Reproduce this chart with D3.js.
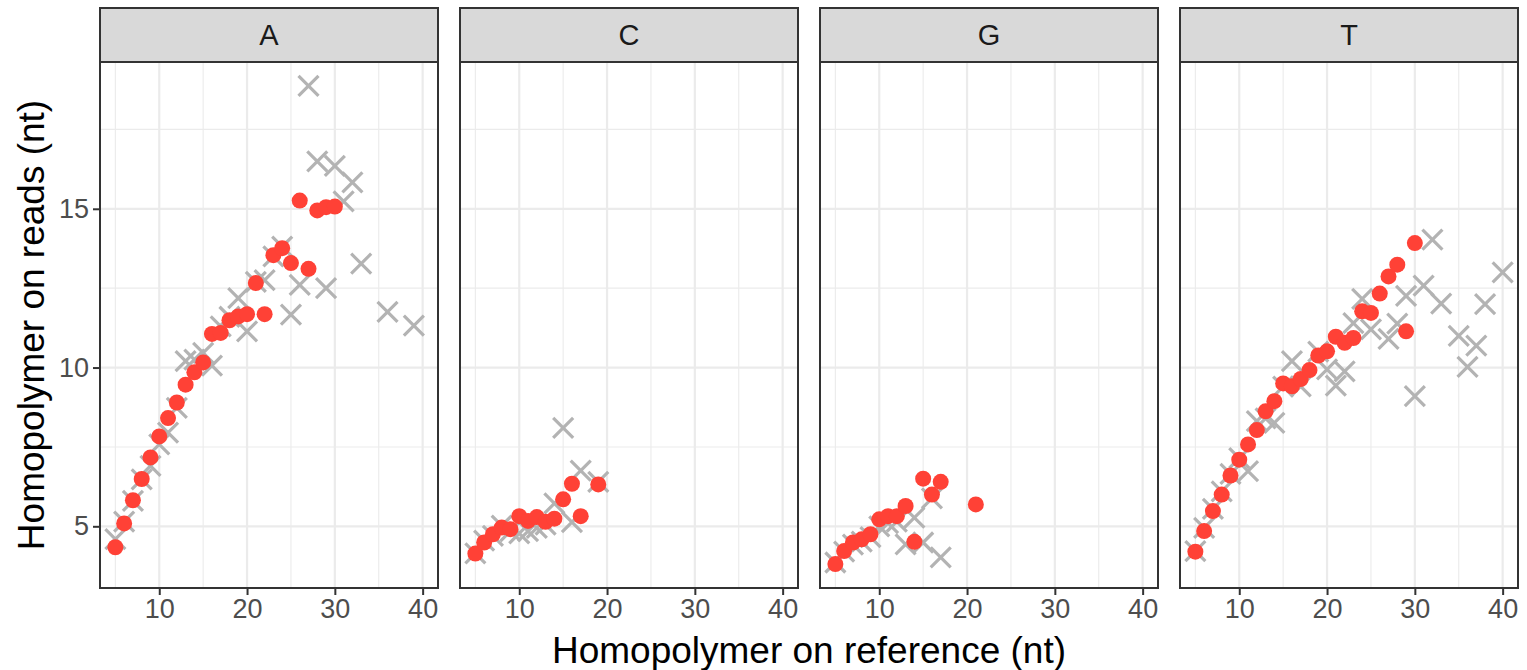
<!DOCTYPE html>
<html>
<head>
<meta charset="utf-8">
<script src="https://cdn.jsdelivr.net/npm/d3@7"></script>
<style>
	body { margin: 0; background: #fff; }
	svg { display: block; font-family: 'Liberation Sans', Arial, sans-serif; }
</style>
</head>
<body>
<svg id="chart" width="1527" height="670"></svg>
<script>
'use strict';

// facets
var bases = ['A', 'C', 'G', 'T'];

// red series: homopolymer length on reference -> mean length on reads
var redX = {
	A: [5, 6, 7, 8, 9, 10, 11, 12, 13, 14, 15, 16, 17, 18, 19, 20, 21, 22, 23, 24, 25, 26, 27, 28, 29, 30],
	C: [5, 6, 7, 8, 9, 10, 11, 12, 13, 14, 15, 16, 17, 19],
	G: [5, 6, 7, 8, 9, 10, 11, 12, 13, 14, 15, 16, 17, 21],
	T: [5, 6, 7, 8, 9, 10, 11, 12, 13, 14, 15, 16, 17, 18, 19, 20, 21, 22, 23, 24, 25, 26, 27, 28, 29, 30]
};
var redY = {
	A: [4.34, 5.09, 5.82, 6.49, 7.17, 7.83, 8.41, 8.90, 9.46, 9.85, 10.16, 11.06, 11.09, 11.49, 11.61, 11.68, 12.66, 11.68, 13.54, 13.76, 13.29, 15.26, 13.11, 14.95, 15.05, 15.07],
	C: [4.14, 4.49, 4.75, 4.96, 4.91, 5.32, 5.17, 5.29, 5.14, 5.24, 5.85, 6.34, 5.32, 6.32],
	G: [3.81, 4.22, 4.49, 4.59, 4.75, 5.22, 5.32, 5.32, 5.64, 4.51, 6.50, 6.00, 6.40, 5.69],
	T: [4.20, 4.85, 5.48, 6.00, 6.60, 7.10, 7.58, 8.03, 8.62, 8.94, 9.50, 9.41, 9.64, 9.92, 10.38, 10.51, 10.97, 10.78, 10.93, 11.77, 11.72, 12.33, 12.87, 13.24, 11.14, 13.92]
};

// grey series
var greyX = {
	A: [5, 6, 7, 8, 9, 10, 11, 12, 13, 14, 15, 16, 17, 18, 19, 20, 21, 22, 23, 24, 25, 26, 27, 28, 29, 30, 31, 32, 33, 36, 39],
	C: [5, 6, 7, 8, 9, 10, 11, 12, 13, 14, 15, 16, 17, 19],
	G: [5, 6, 7, 8, 9, 10, 11, 12, 13, 14, 15, 16, 17],
	T: [5, 6, 7, 8, 9, 10, 11, 12, 13, 14, 15, 16, 17, 19, 20, 21, 22, 23, 24, 25, 27, 28, 29, 30, 31, 32, 33, 35, 36, 37, 38, 40]
};
var greyY = {
	A: [4.60, 5.15, 5.80, 6.48, 6.90, 7.58, 7.95, 8.73, 10.20, 10.25, 10.46, 10.06, 11.30, 11.60, 12.19, 11.14, 12.70, 12.75, 13.50, 13.81, 11.67, 12.60, 18.87, 16.49, 12.50, 16.35, 15.23, 15.83, 13.27, 11.75, 11.32],
	C: [4.15, 4.55, 4.70, 5.02, 4.85, 4.78, 4.85, 4.95, 5.05, 5.72, 8.10, 5.13, 6.75, 6.40],
	G: [3.86, 4.20, 4.42, 4.52, 4.66, 5.00, 5.10, 5.15, 4.43, 5.27, 4.49, 5.88, 4.02],
	T: [4.22, 4.95, 5.55, 6.10, 6.65, 7.15, 6.74, 8.31, 8.40, 8.26, 9.40, 10.20, 9.41, 10.50, 9.94, 9.43, 9.88, 11.40, 12.16, 11.20, 10.90, 11.38, 12.26, 9.10, 12.58, 14.03, 12.01, 11.00, 10.02, 10.69, 12.00, 13.00]
};

var xTicks = [10, 20, 30, 40];
var yTicks = [5, 10, 15];

var svg = d3.select('#chart');

var panelW = 338, gap = 22, left0 = 100;
var stripTop = 8, panelTop = 62, panelBottom = 588;

// shared scales with ggplot-style 5% expansion
var allX = [], allY = [];
bases.forEach(function(b) {
	allX = allX.concat(redX[b], greyX[b]);
	allY = allY.concat(redY[b], greyY[b]);
});
var xr = d3.extent(allX), yr = d3.extent(allY);
var xpad = (xr[1] - xr[0]) * 0.05, ypad = (yr[1] - yr[0]) * 0.05;

var y_scale = d3.scaleLinear()
	.domain([yr[0] - ypad, yr[1] + ypad])
	.range([panelBottom, panelTop]);

bases.forEach(function(b, i) {
	var x0 = left0 + i * (panelW + gap);
	var x_scale = d3.scaleLinear()
		.domain([xr[0] - xpad, xr[1] + xpad])
		.range([x0, x0 + panelW]);

	var g = svg.append('g');

	// grid: minor then major
	var xMinor = xTicks.map(function(t) { return t - 5; });
	var yMinor = [7.5, 12.5, 17.5];
	g.selectAll('line.xminor').data(xMinor).enter().append('line')
		.attr('x1', function(d) { return x_scale(d); }).attr('x2', function(d) { return x_scale(d); })
		.attr('y1', panelTop).attr('y2', panelBottom)
		.attr('stroke', '#ebebeb').attr('stroke-width', 1.1);
	g.selectAll('line.yminor').data(yMinor).enter().append('line')
		.attr('y1', function(d) { return y_scale(d); }).attr('y2', function(d) { return y_scale(d); })
		.attr('x1', x0).attr('x2', x0 + panelW)
		.attr('stroke', '#ebebeb').attr('stroke-width', 1.1);
	g.selectAll('line.xmajor').data(xTicks).enter().append('line')
		.attr('x1', function(d) { return x_scale(d); }).attr('x2', function(d) { return x_scale(d); })
		.attr('y1', panelTop).attr('y2', panelBottom)
		.attr('stroke', '#ebebeb').attr('stroke-width', 2.2);
	g.selectAll('line.ymajor').data(yTicks).enter().append('line')
		.attr('y1', function(d) { return y_scale(d); }).attr('y2', function(d) { return y_scale(d); })
		.attr('x1', x0).attr('x2', x0 + panelW)
		.attr('stroke', '#ebebeb').attr('stroke-width', 2.2);

	// grey crosses
	var greys = greyX[b].map(function(x, k) { return { x: x, y: greyY[b][k] }; });
	var s = 10;
	g.selectAll('path.cross').data(greys).enter().append('path')
		.attr('d', function(d) {
			var cx = x_scale(d.x), cy = y_scale(d.y);
			return 'M' + (cx - s) + ',' + (cy - s) + 'L' + (cx + s) + ',' + (cy + s) +
				'M' + (cx - s) + ',' + (cy + s) + 'L' + (cx + s) + ',' + (cy - s);
		})
		.attr('stroke', '#b3b3b3').attr('stroke-width', 3.2).attr('fill', 'none');

	// red dots
	var reds = redX[b].map(function(x, k) { return { x: x, y: redY[b][k] }; });
	g.selectAll('circle.dot').data(reds).enter().append('circle')
		.attr('cx', function(d) { return x_scale(d.x); })
		.attr('cy', function(d) { return y_scale(d.y); })
		.attr('r', 8)
		.attr('fill', '#ff4136');

	// panel border
	g.append('rect')
		.attr('x', x0).attr('y', panelTop).attr('width', panelW).attr('height', panelBottom - panelTop)
		.attr('fill', 'none').attr('stroke', '#333333').attr('stroke-width', 2);

	// strip
	g.append('rect')
		.attr('x', x0).attr('y', stripTop).attr('width', panelW).attr('height', panelTop - stripTop)
		.attr('fill', '#d9d9d9').attr('stroke', '#333333').attr('stroke-width', 2);
	g.append('text')
		.attr('x', x0 + panelW / 2).attr('y', (stripTop + panelTop) / 2)
		.attr('dy', '0.36em').attr('text-anchor', 'middle')
		.style('font-size', '29px').attr('fill', '#1a1a1a')
		.text(b);

	// x axis
	var xAxis = d3.axisBottom(x_scale).tickValues(xTicks).tickSize(6).tickPadding(4);
	var xa = svg.append('g').attr('transform', 'translate(0,' + (panelBottom + 1) + ')').call(xAxis);
	xa.select('.domain').remove();
	xa.selectAll('.tick line').attr('stroke', '#333333').attr('stroke-width', 2);
	xa.selectAll('.tick text').style('font-size', '27px').attr('fill', '#4d4d4d')
		.style('font-family', 'Liberation Sans, Arial, sans-serif');

	// y axis on first panel only
	if (i === 0) {
		var yAxis = d3.axisLeft(y_scale).tickValues(yTicks).tickSize(6).tickPadding(4);
		var ya = svg.append('g').attr('transform', 'translate(' + (x0 - 1) + ',0)').call(yAxis);
		ya.select('.domain').remove();
		ya.selectAll('.tick line').attr('stroke', '#333333').attr('stroke-width', 2);
		ya.selectAll('.tick text').style('font-size', '27px').attr('fill', '#4d4d4d')
			.style('font-family', 'Liberation Sans, Arial, sans-serif');
	}
});

// axis titles
svg.append('text')
	.attr('x', (left0 + 4 * panelW + 3 * gap + left0) / 2).attr('y', 663)
	.attr('text-anchor', 'middle').style('font-size', '37px').attr('fill', '#000')
	.text('Homopolymer on reference (nt)');
svg.append('text')
	.attr('transform', 'translate(44,' + ((panelTop + panelBottom) / 2) + ') rotate(-90)')
	.attr('text-anchor', 'middle').style('font-size', '37px').attr('fill', '#000')
	.text('Homopolymer on reads (nt)');
</script>
</body>
</html>
